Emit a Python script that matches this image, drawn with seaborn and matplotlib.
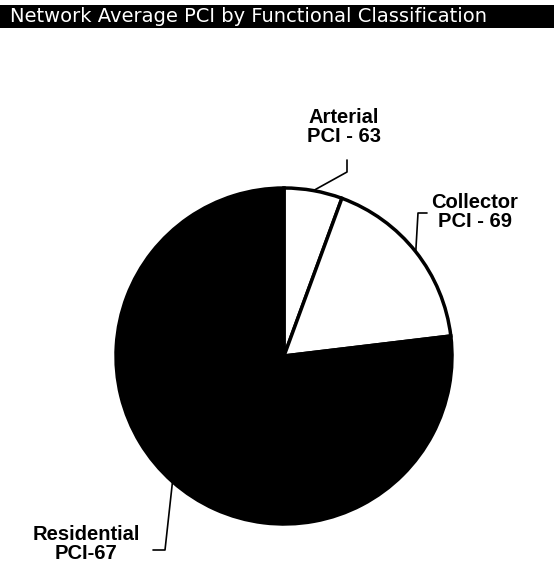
import numpy as np
import matplotlib
matplotlib.use("Agg")
import matplotlib.pyplot as plt
from matplotlib.patches import Rectangle
import seaborn as sns

# --- datos ---
CATEGORIES = ["Arterial", "Collector", "Residential"]
PCI_LABELS = ["PCI - 63", "PCI - 69", "PCI-67"]
SHARES = [5.6, 17.5, 76.9]          # % de la red
COLORS = ["white", "white", "black"]

TITLE = "Network Average PCI by Functional Classification"

# --- geometría en píxeles ---
W, H = 554, 571
CX, CY, R = 284, 356, 168

sns.set_theme(style="white")
plt.rcParams["font.family"] = ["Liberation Sans", "DejaVu Sans"]

fig = plt.figure(figsize=(W / 100, H / 100), dpi=100)
ax = fig.add_axes([0, 0, 1, 1])


def px(x, y):
    """Convierte píxeles de la imagen a coordenadas de datos."""
    return (x - CX) / R, (CY - y) / R


wedges, _ = ax.pie(SHARES, colors=COLORS, startangle=90, counterclock=False,
                   radius=1, center=(0, 0), frame=True,
                   wedgeprops=dict(edgecolor="black", linewidth=2.5))
ax.set_xlim(-CX / R, (W - CX) / R)
ax.set_ylim(-(H - CY) / R, CY / R)
ax.axis("off")

# etiquetas y líneas guía (codo y cola en píxeles)
label_pos = [(344, 127), (475, 212), (86, 544)]
elbows = [(347, 172), (418, 213), (165, 550)]
tails = [(347, 160), (427, 213), (153, 550)]

for w, cat, pci, lp, el, tl in zip(wedges, CATEGORIES, PCI_LABELS,
                                   label_pos, elbows, tails):
    ang = np.deg2rad((w.theta1 + w.theta2) / 2)
    x0, y0 = np.cos(ang), np.sin(ang)
    ex, ey = px(*el)
    tx, ty = px(*tl)
    ax.plot([x0, ex, tx], [y0, ey, ty], color="black", lw=1.2, zorder=3)
    lx, ly = px(*lp)
    ax.text(lx, ly, f"{cat}\n{pci}", ha="center", va="center",
            fontsize=14.5, fontweight="bold", color="black", linespacing=0.95)

# barra del título
fig.patches.append(Rectangle((0, 1 - 28 / H), 1, 23 / H, transform=fig.transFigure,
                             facecolor="black", edgecolor="none", zorder=0))
fig.text(10 / W, 1 - 17 / H, TITLE, color="white", fontsize=14,
         family="DejaVu Sans", ha="left", va="center")

fig.savefig("out.png", dpi=100, facecolor="white")
